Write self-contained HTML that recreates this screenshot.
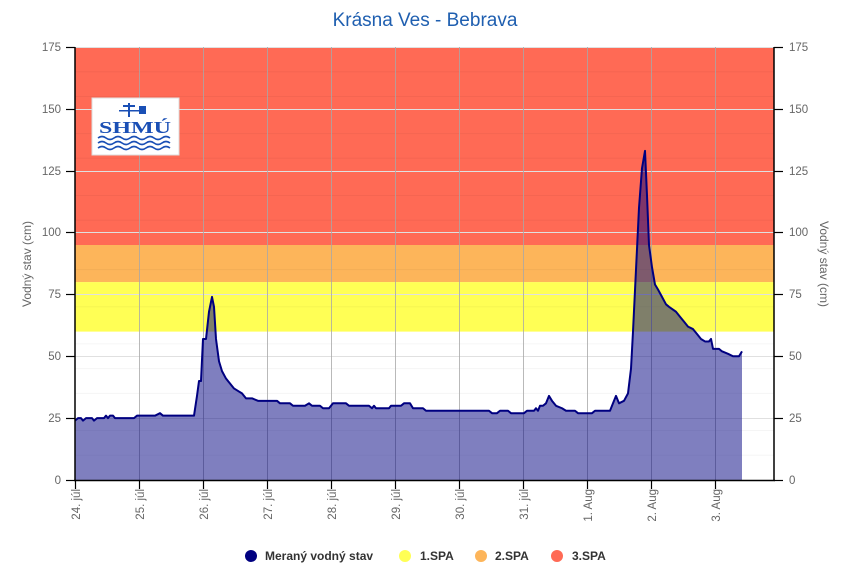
<!DOCTYPE html>
<html><head><meta charset="utf-8"><style>
body{margin:0;background:#fff;}
svg{display:block;font-family:"Liberation Sans",sans-serif;}
</style></head><body>
<svg width="863" height="582" viewBox="0 0 863 582">
<rect width="863" height="582" fill="#fff"/>
<text x="425" y="26" text-anchor="middle" font-size="19" fill="#1f5fb0">Krásna Ves - Bebrava</text>
<!-- bands -->
<rect x="75" y="48" width="699" height="197.1" fill="#ff6a55"/>
<rect x="75" y="245" width="699" height="37.2" fill="#fdb55a"/>
<rect x="75" y="282.1" width="699" height="49.5" fill="#ffff55"/>
<!-- minor grid -->
<g stroke="#000" stroke-opacity="0.04" stroke-width="1">
<line x1="75" x2="774" y1="455.3" y2="455.3"/><line x1="75" x2="774" y1="430.5" y2="430.5"/><line x1="75" x2="774" y1="393.4" y2="393.4"/><line x1="75" x2="774" y1="368.6" y2="368.6"/><line x1="75" x2="774" y1="343.9" y2="343.9"/><line x1="75" x2="774" y1="306.8" y2="306.8"/><line x1="75" x2="774" y1="269.6" y2="269.6"/><line x1="75" x2="774" y1="220.2" y2="220.2"/><line x1="75" x2="774" y1="195.5" y2="195.5"/><line x1="75" x2="774" y1="158.3" y2="158.3"/><line x1="75" x2="774" y1="133.6" y2="133.6"/><line x1="75" x2="774" y1="96.5" y2="96.5"/><line x1="75" x2="774" y1="71.7" y2="71.7"/>
</g>
<!-- major grid -->
<g stroke="#e0e0e0" stroke-width="1">
<line x1="75" x2="774" y1="418.5" y2="418.5"/><line x1="75" x2="774" y1="356.5" y2="356.5"/><line x1="75" x2="774" y1="294.5" y2="294.5"/><line x1="75" x2="774" y1="232.5" y2="232.5"/><line x1="75" x2="774" y1="171.5" y2="171.5"/><line x1="75" x2="774" y1="109.5" y2="109.5"/><line x1="75" x2="774" y1="47.5" y2="47.5"/>
</g>
<g stroke="#a8a8a8" stroke-opacity="0.8" stroke-width="1">
<line x1="139.5" x2="139.5" y1="47" y2="480"/><line x1="203.5" x2="203.5" y1="47" y2="480"/><line x1="267.5" x2="267.5" y1="47" y2="480"/><line x1="331.5" x2="331.5" y1="47" y2="480"/><line x1="395.5" x2="395.5" y1="47" y2="480"/><line x1="459.5" x2="459.5" y1="47" y2="480"/><line x1="523.5" x2="523.5" y1="47" y2="480"/><line x1="587.5" x2="587.5" y1="47" y2="480"/><line x1="651.5" x2="651.5" y1="47" y2="480"/><line x1="715.5" x2="715.5" y1="47" y2="480"/>
</g>
<!-- series -->
<g transform="translate(0,480) scale(1,-2.4743)">
<polygon fill="#000080" fill-opacity="0.5" points="75,0 75,24 78,25 81,25 83,24 86,25 92,25 94,24 97,25 104,25 106,26 108,25 110,26 113,26 115,25 134,25 137,26 142,26 155,26 160,27 163,26 194,26 197,34 199,40 201,40 203,57 206,57 209,68 212,74 214,70 216,57 219,48 222,44 226,41 230,39 234,37 238,36 242,35 246,33 252,33 258,32 268,32 277,32 280,31 290,31 293,30 305,30 309,31 312,30 320,30 323,29 329,29 333,31 346,31 349,30 369,30 372,29 374,30 376,29 389,29 391,30 401,30 404,31 410,31 413,29 423,29 426,28 489,28 492,27 497,27 500,28 508,28 511,27 524,27 527,28 534,28 536,29 538,28 540,30 543,30 546,31 549,34 552,32 556,30 562,29 566,28 575,28 578,27 592,27 595,28 610,28 613,31 616,34 619,31 624,32 628,35 631,45 633,60 636,85 639,110 642,126 645,133 647,115 649,95 652,86 655,79 658,77 662,74 666,71 669,70 676,68 680,66 684,64 688,62 693,61 697,59 701,57 705,56 709,56 711,57 713,53 719,53 722,52 728,51 733,50 739,50 742,52 742,0"/>
<polyline fill="none" stroke="#000080" stroke-width="2" vector-effect="non-scaling-stroke" stroke-linejoin="round" points="75,24 78,25 81,25 83,24 86,25 92,25 94,24 97,25 104,25 106,26 108,25 110,26 113,26 115,25 134,25 137,26 142,26 155,26 160,27 163,26 194,26 197,34 199,40 201,40 203,57 206,57 209,68 212,74 214,70 216,57 219,48 222,44 226,41 230,39 234,37 238,36 242,35 246,33 252,33 258,32 268,32 277,32 280,31 290,31 293,30 305,30 309,31 312,30 320,30 323,29 329,29 333,31 346,31 349,30 369,30 372,29 374,30 376,29 389,29 391,30 401,30 404,31 410,31 413,29 423,29 426,28 489,28 492,27 497,27 500,28 508,28 511,27 524,27 527,28 534,28 536,29 538,28 540,30 543,30 546,31 549,34 552,32 556,30 562,29 566,28 575,28 578,27 592,27 595,28 610,28 613,31 616,34 619,31 624,32 628,35 631,45 633,60 636,85 639,110 642,126 645,133 647,115 649,95 652,86 655,79 658,77 662,74 666,71 669,70 676,68 680,66 684,64 688,62 693,61 697,59 701,57 705,56 709,56 711,57 713,53 719,53 722,52 728,51 733,50 739,50 742,52"/>
</g>
<!-- logo -->
<rect x="92" y="98" width="87" height="57" fill="#fff" stroke="#ddd"/>
<g fill="#1a4fb5">
<rect x="128" y="103" width="2" height="14"/><rect x="123" y="105" width="12" height="2"/><rect x="119" y="110" width="20" height="1.5"/><polygon points="139,106 146,106 146,114 139,114"/>
<text x="135" y="133" text-anchor="middle" font-size="17" font-weight="bold" font-family="Liberation Serif,serif" textLength="72" lengthAdjust="spacingAndGlyphs">SHMÚ</text>
</g>
<g fill="none" stroke="#1a4fb5" stroke-width="1.6">
<path d="M98,138 q4,-3 8,0 t8,0 t8,0 t8,0 t8,0 t8,0 t8,0 t8,0 t8,0"/>
<path d="M98,143 q4,-3 8,0 t8,0 t8,0 t8,0 t8,0 t8,0 t8,0 t8,0 t8,0"/>
<path d="M98,148 q4,-3 8,0 t8,0 t8,0 t8,0 t8,0 t8,0 t8,0 t8,0 t8,0"/>
</g>
<!-- axes -->
<g stroke="#000" stroke-width="1.5">
<line x1="75" y1="47" x2="75" y2="481"/><line x1="774" y1="47" x2="774" y2="481"/>
<line x1="74" y1="480.5" x2="775" y2="480.5"/>
</g>
<g stroke="#000" stroke-width="1.2">
<line x1="66" x2="75" y1="480.5" y2="480.5"/><line x1="66" x2="75" y1="418.5" y2="418.5"/><line x1="66" x2="75" y1="356.5" y2="356.5"/><line x1="66" x2="75" y1="294.5" y2="294.5"/><line x1="66" x2="75" y1="232.5" y2="232.5"/><line x1="66" x2="75" y1="171.5" y2="171.5"/><line x1="66" x2="75" y1="109.5" y2="109.5"/><line x1="66" x2="75" y1="47.5" y2="47.5"/>
<line x1="774" x2="783" y1="480.5" y2="480.5"/><line x1="774" x2="783" y1="418.5" y2="418.5"/><line x1="774" x2="783" y1="356.5" y2="356.5"/><line x1="774" x2="783" y1="294.5" y2="294.5"/><line x1="774" x2="783" y1="232.5" y2="232.5"/><line x1="774" x2="783" y1="171.5" y2="171.5"/><line x1="774" x2="783" y1="109.5" y2="109.5"/><line x1="774" x2="783" y1="47.5" y2="47.5"/>
<line x1="75.5" x2="75.5" y1="480" y2="489"/><line x1="139.5" x2="139.5" y1="480" y2="489"/><line x1="203.5" x2="203.5" y1="480" y2="489"/><line x1="267.5" x2="267.5" y1="480" y2="489"/><line x1="331.5" x2="331.5" y1="480" y2="489"/><line x1="395.5" x2="395.5" y1="480" y2="489"/><line x1="459.5" x2="459.5" y1="480" y2="489"/><line x1="523.5" x2="523.5" y1="480" y2="489"/><line x1="587.5" x2="587.5" y1="480" y2="489"/><line x1="651.5" x2="651.5" y1="480" y2="489"/><line x1="715.5" x2="715.5" y1="480" y2="489"/>
</g>
<g font-size="11.5" fill="#666" text-anchor="end">
<text x="61" y="484">0</text><text x="61" y="422">25</text><text x="61" y="360">50</text><text x="61" y="298">75</text><text x="61" y="236">100</text><text x="61" y="175">125</text><text x="61" y="113">150</text><text x="61" y="51">175</text>
</g>
<g font-size="11.5" fill="#666">
<text x="789" y="484">0</text><text x="789" y="422">25</text><text x="789" y="360">50</text><text x="789" y="298">75</text><text x="789" y="236">100</text><text x="789" y="175">125</text><text x="789" y="113">150</text><text x="789" y="51">175</text>
</g>
<text transform="translate(31,264) rotate(-90)" text-anchor="middle" font-size="12" fill="#666">Vodný stav (cm)</text>
<text transform="translate(820,264) rotate(90)" text-anchor="middle" font-size="12" fill="#666">Vodný stav (cm)</text>
<g font-size="11.5" fill="#666" text-anchor="end">
<text transform="translate(80,489) rotate(-90)">24. júl</text>
<text transform="translate(144,489) rotate(-90)">25. júl</text>
<text transform="translate(208,489) rotate(-90)">26. júl</text>
<text transform="translate(272,489) rotate(-90)">27. júl</text>
<text transform="translate(336,489) rotate(-90)">28. júl</text>
<text transform="translate(400,489) rotate(-90)">29. júl</text>
<text transform="translate(464,489) rotate(-90)">30. júl</text>
<text transform="translate(528,489) rotate(-90)">31. júl</text>
<text transform="translate(592,489) rotate(-90)">1. Aug</text>
<text transform="translate(656,489) rotate(-90)">2. Aug</text>
<text transform="translate(720,489) rotate(-90)">3. Aug</text>
</g>
<!-- legend -->
<circle cx="251" cy="556" r="6" fill="#000080"/>
<circle cx="405" cy="556" r="6" fill="#ffff55"/>
<circle cx="481" cy="556" r="6" fill="#fdb55a"/>
<circle cx="557" cy="556" r="6" fill="#ff6a55"/>
<g font-size="12" font-weight="bold" fill="#333">
<text x="265" y="560">Meraný vodný stav</text>
<text x="420" y="560">1.SPA</text>
<text x="495" y="560">2.SPA</text>
<text x="572" y="560">3.SPA</text>
</g>
</svg>
</body></html>
